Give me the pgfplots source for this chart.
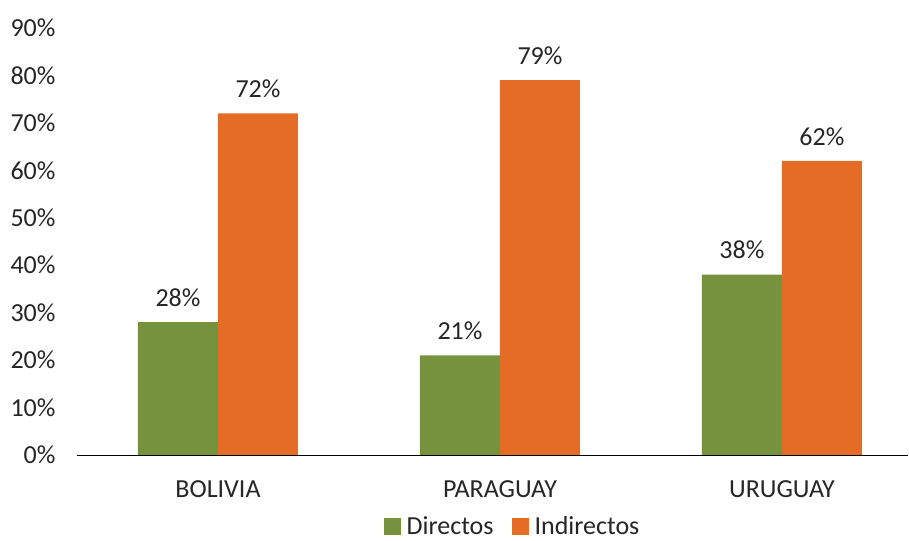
\documentclass[border=0pt]{standalone}
\usepackage{fontspec}
\setmainfont{Carlito}
\usepackage{pgfplots}
\pgfplotsset{compat=1.18}
\definecolor{dgreen}{HTML}{76923C}
\definecolor{dorange}{HTML}{E46C25}
\definecolor{txt}{HTML}{262626}
\begin{document}
\begin{tikzpicture}
\begin{axis}[
  at={(77bp,86bp)}, anchor=south west,
  scale only axis, width=831bp, height=427bp,
  ybar=0pt, bar width=80bp,
  xmin=-0.5, xmax=2.447,
  ymin=0, ymax=90,
  xtick={0,1,2}, xticklabels={BOLIVIA,PARAGUAY,URUGUAY},
  ytick={0,10,...,90},
  yticklabel={\pgfmathprintnumber{\tick}\%},
  /pgf/number format/assume math mode=true,
  axis x line*=bottom, axis y line*=left,
  x axis line style={black, line width=1pt, -},
  y axis line style={draw=none},
  major tick length=0pt,
  tick label style={font=\fontsize{26bp}{30bp}\selectfont, text=txt},
  yticklabel style={xshift=-18bp},
  xticklabel style={yshift=-22bp},
  nodes near coords={\pgfmathprintnumber{\pgfplotspointmeta}\%},
  nodes near coords style={font=\fontsize{26bp}{30bp}\selectfont, text=txt, yshift=12bp},
  legend style={at={(0.5241,-0.1663)}, anchor=center, draw=none, legend columns=2,
    font=\fontsize{26bp}{30bp}\selectfont, text=txt,
    nodes={inner ysep=1bp},
    /tikz/every even column/.append style={column sep=16bp}},
  legend image code/.code={\fill[#1] (0bp,-8.5bp) rectangle (17bp,8.5bp); \path (21bp,0bp);},
  clip=false,
]
\addplot[fill=dgreen, draw=none] coordinates {(0,28) (1,21) (2,38)};
\addplot[fill=dorange, draw=none] coordinates {(0,72) (1,79) (2,62)};
\legend{Directos, Indirectos}
\end{axis}
\pgfresetboundingbox
\path[use as bounding box] (0,0) rectangle (909bp,541bp);
\end{tikzpicture}
\end{document}
